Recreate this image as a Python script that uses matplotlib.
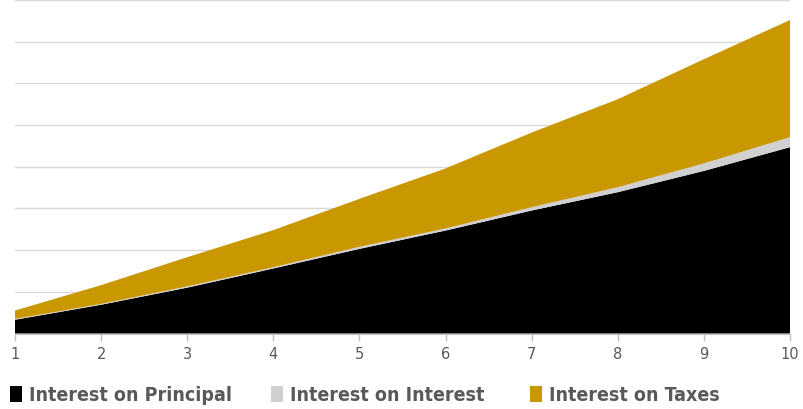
import matplotlib.pyplot as plt
from matplotlib.patches import Rectangle

years = [1, 2, 3, 4, 5, 6, 7, 8, 9, 10]
# values (stacked amounts per year)
principal = [0.33, 0.69, 1.10, 1.56, 2.03, 2.47, 2.95, 3.39, 3.90, 4.47]
on_interest = [0.02, 0.02, 0.03, 0.03, 0.05, 0.05, 0.08, 0.12, 0.18, 0.24]
on_taxes = [0.20, 0.45, 0.70, 0.89, 1.15, 1.44, 1.79, 2.11, 2.50, 2.81]
labels = ['Interest on Principal', 'Interest on Interest', 'Interest on Taxes']
colors = ['#000000', '#d0d0d0', '#c99700']

W, H = 804, 410
fig = plt.figure(figsize=(W / 100, H / 100), dpi=100)
ax = fig.add_axes([15 / W, 75.5 / H, 775 / W, 333.5 / H])

ax.stackplot(years, principal, on_interest, on_taxes, colors=colors, linewidth=0)

ax.set_xlim(1, 10)
ax.set_ylim(0, 8)
ax.set_xticks(years)
ax.set_yticks(range(1, 9))
ax.yaxis.grid(True, color='#d9d9d9', linewidth=1)
ax.set_axisbelow(True)
ax.tick_params(axis='y', left=False, labelleft=False)
ax.tick_params(axis='x', colors='#bfbfbf', length=5, width=1, labelcolor='#595959',
               labelsize=10.5, pad=4)
for s in ['left', 'right', 'top']:
    ax.spines[s].set_visible(False)
ax.spines['bottom'].set_color('#bfbfbf')

# legend drawn by hand so the spacing matches
box_x = [10, 271, 530]
for bx, lab, c in zip(box_x, labels, colors):
    fig.add_artist(Rectangle((bx / W, (H - 403) / H), 12 / W, 16 / H,
                             transform=fig.transFigure, facecolor=c, edgecolor='none'))
    fig.text((bx + 19) / W, (H - 395.5) / H, lab, va='center', ha='left',
             family='DejaVu Sans', fontstretch='condensed', fontweight='bold',
             fontsize=14, color='#595959')

fig.savefig('out.png', dpi=100)
